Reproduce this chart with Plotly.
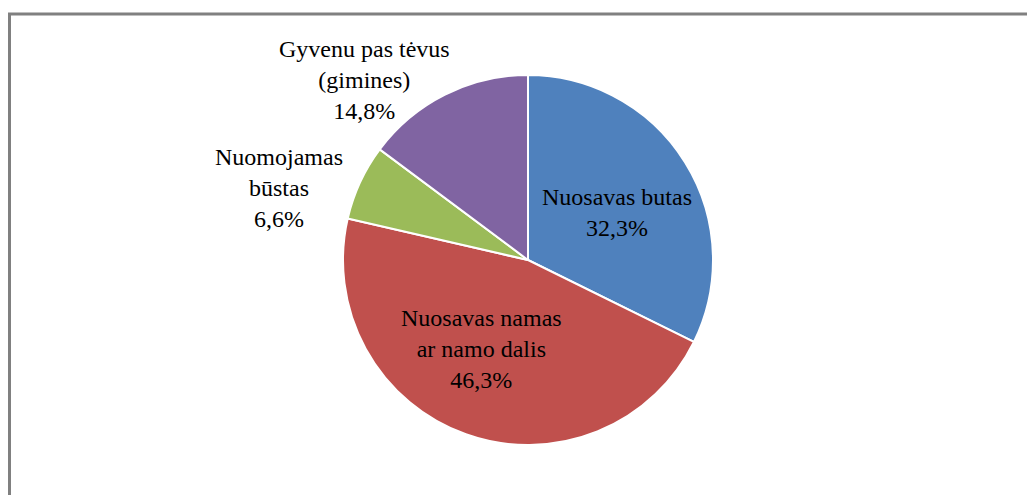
import plotly.graph_objects as go

categories = ["Nuosavas butas", "Nuosavas namas<br>ar namo dalis", "Nuomojamas<br>būstas", "Gyvenu pas tėvus<br>(gimines)"]
values = [32.3, 46.3, 6.6, 14.8]
colors = ["#4F81BD", "#C0504D", "#9BBB59", "#8064A2"]
# label centres in page pixels (layout only)
label_pos = [(617, 213), (481, 349), (279, 188), (364, 80)]

OFF = 8  # page body margin
W, H = 1035 - OFF, 495 - OFF
cx, cy, r = 528 - OFF, 260 - OFF, 185

FONT = "Liberation Serif, Times New Roman, DejaVu Serif, serif"

fig = go.Figure(go.Pie(
    labels=categories,
    values=values,
    sort=False,
    direction="clockwise",
    rotation=0,
    marker=dict(colors=colors, line=dict(color="white", width=2)),
    textinfo="none",
    domain=dict(x=[(cx - r) / W, (cx + r) / W], y=[(H - cy - r) / H, (H - cy + r) / H]),
    showlegend=False,
    hoverinfo="label+percent",
))

annotations = []
for lab, val, (px, py) in zip(categories, values, label_pos):
    annotations.append(dict(
        xref="paper", yref="paper",
        x=(px - OFF) / W, y=1 - (py - OFF) / H,
        xanchor="center", yanchor="middle",
        text=f"{lab}<br>{val:.1f}%".replace(".", ","),
        showarrow=False, align="center",
        font=dict(family=FONT, size=24, color="black"),
    ))

fig.update_layout(
    width=W, height=H,
    margin=dict(l=0, r=0, t=0, b=0),
    paper_bgcolor="white",
    annotations=annotations,
    shapes=[dict(type="rect", xref="paper", yref="paper",
                 x0=(9.5 - OFF) / W, x1=1.02, y0=-0.02, y1=1 - (14 - OFF) / H,
                 line=dict(color="#808080", width=3))],
)

fig.write_html("out.html")
